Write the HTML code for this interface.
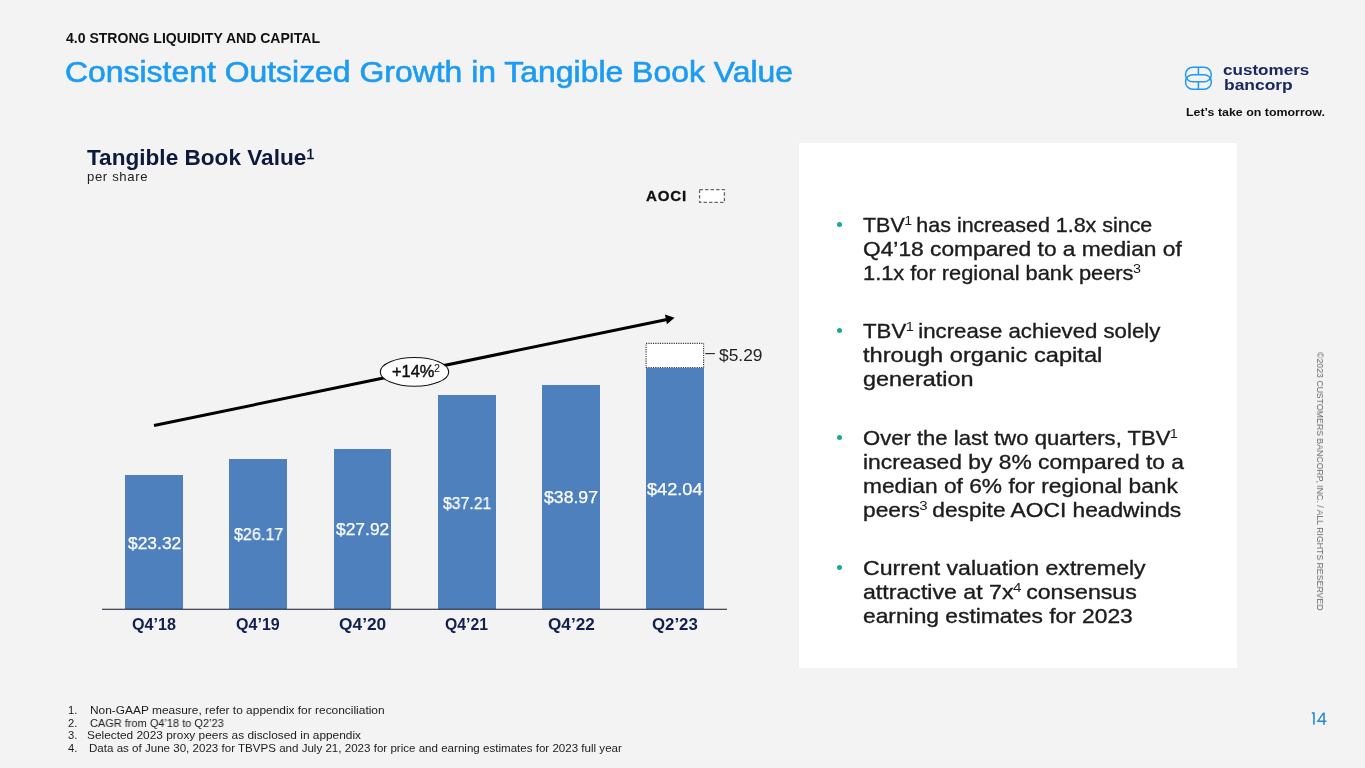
<!DOCTYPE html>
<html><head><meta charset="utf-8"><title>Consistent Outsized Growth in Tangible Book Value</title>
<style>
html,body{margin:0;padding:0;}
body{width:1365px;height:768px;background:#f3f3f3;position:relative;overflow:hidden;font-family:"Liberation Sans",sans-serif;}
.t{position:absolute;white-space:nowrap;line-height:1;transform-origin:0 0;display:block;will-change:transform;}
.sp{font-size:66%;position:relative;top:-0.56em;letter-spacing:0;margin:0 -1.5px 0 -0.5px;-webkit-text-stroke:0;}
.sph{font-size:66%;position:relative;top:-0.44em;font-weight:400;margin:0 -2px 0 0;-webkit-text-stroke:0.35px #0e1a3c;}
.panel{position:absolute;left:799px;top:143px;width:438px;height:525px;background:#ffffff;}
.bar{position:absolute;background:#4e80bd;}
.dot{position:absolute;width:5.2px;height:5.2px;border-radius:50%;background:#18a99b;}
svg{position:absolute;left:0;top:0;}
.vert{position:absolute;white-space:nowrap;line-height:1;font-size:9.7px;color:#6a6a6a;transform-origin:0 0;will-change:transform;}
</style></head>
<body>
<div class="panel"></div>
<div class="bar" style="left:125px;top:475px;width:58px;height:134px"></div>
<div class="bar" style="left:229.25px;top:458.5px;width:57.75px;height:150.5px"></div>
<div class="bar" style="left:333.75px;top:448.75px;width:57.5px;height:160.25px"></div>
<div class="bar" style="left:437.75px;top:395px;width:57.75px;height:214px"></div>
<div class="bar" style="left:541.75px;top:385px;width:57.75px;height:224px"></div>
<div class="bar" style="left:645.75px;top:367.5px;width:58px;height:241.5px"></div>
<svg width="1365" height="768" viewBox="0 0 1365 768">
<line x1="102" y1="609.3" x2="727" y2="609.3" stroke="#15152a" stroke-width="1.1"/>
<rect x="646.1" y="343.4" width="57.5" height="24.1" fill="#ffffff" stroke="#333" stroke-width="1.1" stroke-dasharray="1.15 1.15"/>
<line x1="705.3" y1="353.6" x2="714.9" y2="353.6" stroke="#222" stroke-width="1.1"/>
<line x1="154" y1="425.5" x2="667" y2="319.45" stroke="#000" stroke-width="3"/>
<polygon points="674.6,317.85 664.9,314.4 666.9,324.3" fill="#000"/>
<ellipse cx="414.5" cy="371.9" rx="34.2" ry="14.4" fill="#ffffff" stroke="#111" stroke-width="1.1"/>
<rect x="699.6" y="189.6" width="24.8" height="12.7" fill="#ffffff" stroke="#666" stroke-width="1.3" stroke-dasharray="3.4 2.1"/>
<g fill="none" stroke="#2398f3" stroke-width="1.5">
<rect x="1185.5" y="67.25" width="25.8" height="14.6" rx="7.3" ry="7.3"/>
<rect x="1185.5" y="74.65" width="25.8" height="14.6" rx="7.3" ry="7.3"/>
<line x1="1198.4" y1="67.25" x2="1198.4" y2="74.65"/>
<line x1="1198.4" y1="81.85" x2="1198.4" y2="89.25"/>
</g>
<g fill="none" stroke="#2385d3" stroke-width="1.55" stroke-linejoin="miter">
<path d="M1311.8,713.05 H1313.95 V724.7"/>
<path d="M1324,712.5 V724.7"/>
<path d="M1323.3,713.1 L1317.9,721.2 H1326.4" stroke-width="1.35"/>
</g>
</svg>

<div class="dot" style="left:837px;top:222.0px"></div>
<div class="dot" style="left:837px;top:328.0px"></div>
<div class="dot" style="left:837px;top:435.0px"></div>
<div class="dot" style="left:837px;top:564.9px"></div>
<span class="t" style="left:65.50px;top:31.15px;font-size:14px;color:#111;font-weight:700;transform:scaleX(1.0027);">4.0 STRONG LIQUIDITY AND CAPITAL</span>
<span class="t" style="left:65.00px;top:56.70px;font-size:29.3px;color:#1b9bf1;-webkit-text-stroke:0.6px #1b9bf1;transform:scaleX(1.0894);">Consistent Outsized Growth in Tangible Book Value</span>
<span class="t" style="left:87.00px;top:146.72px;font-size:21.6px;color:#0e1a3c;font-weight:700;transform:scaleX(1.0463);">Tangible Book Value<span class="sph">1</span></span>
<span class="t" style="left:87.00px;top:171.33px;font-size:12.6px;color:#222;letter-spacing:0.6px;transform:scaleX(1.0429);">per share</span>
<span class="t" style="left:646.00px;top:188.89px;font-size:14.6px;color:#111;font-weight:700;letter-spacing:0.8px;-webkit-text-stroke:0.3px #111;transform:scaleX(1.0350);">AOCI</span>
<span class="t" style="left:128.00px;top:534.62px;font-size:16.4px;color:#ffffff;-webkit-text-stroke:0.25px #ffffff;transform:scaleX(1.0620);">$23.32</span>
<span class="t" style="left:233.75px;top:526.37px;font-size:16.4px;color:#ffffff;-webkit-text-stroke:0.25px #ffffff;transform:scaleX(0.9822);">$26.17</span>
<span class="t" style="left:336.25px;top:521.12px;font-size:16.4px;color:#ffffff;-webkit-text-stroke:0.25px #ffffff;transform:scaleX(1.0620);">$27.92</span>
<span class="t" style="left:442.50px;top:494.62px;font-size:16.4px;color:#ffffff;-webkit-text-stroke:0.25px #ffffff;transform:scaleX(0.9623);">$37.21</span>
<span class="t" style="left:543.75px;top:489.37px;font-size:16.4px;color:#ffffff;-webkit-text-stroke:0.25px #ffffff;transform:scaleX(1.0770);">$38.97</span>
<span class="t" style="left:647.00px;top:480.62px;font-size:16.4px;color:#ffffff;-webkit-text-stroke:0.25px #ffffff;transform:scaleX(1.1069);">$42.04</span>
<span class="t" style="left:132.00px;top:616.79px;font-size:15.6px;color:#12204f;font-weight:700;transform:scaleX(1.0357);">Q4’18</span>
<span class="t" style="left:236.25px;top:616.79px;font-size:15.6px;color:#12204f;font-weight:700;transform:scaleX(1.0298);">Q4’19</span>
<span class="t" style="left:338.75px;top:616.79px;font-size:15.6px;color:#12204f;font-weight:700;transform:scaleX(1.1122);">Q4’20</span>
<span class="t" style="left:445.00px;top:616.79px;font-size:15.6px;color:#12204f;font-weight:700;transform:scaleX(1.0121);">Q4’21</span>
<span class="t" style="left:547.50px;top:616.79px;font-size:15.6px;color:#12204f;font-weight:700;transform:scaleX(1.1004);">Q4’22</span>
<span class="t" style="left:651.75px;top:616.79px;font-size:15.6px;color:#12204f;font-weight:700;transform:scaleX(1.0769);">Q2’23</span>
<span class="t" style="left:392.00px;top:363.29px;font-size:16.2px;color:#111;-webkit-text-stroke:0.45px #111;transform:scaleX(1.0150);">+14%<span class="sp" style="top:-0.44em">2</span></span>
<span class="t" style="left:719.00px;top:347.70px;font-size:16.6px;color:#222;transform:scaleX(1.0474);">$5.29</span>
<span class="t" style="left:863.20px;top:215.94px;font-size:19.8px;color:#1c1c1c;-webkit-text-stroke:0.35px #1c1c1c;transform:scaleX(1.0836);">TBV<span class="sp">1</span> has increased 1.8x since</span>
<span class="t" style="left:863.20px;top:240.19px;font-size:19.8px;color:#1c1c1c;-webkit-text-stroke:0.35px #1c1c1c;transform:scaleX(1.1504);">Q4’18 compared to a median of</span>
<span class="t" style="left:863.20px;top:264.44px;font-size:19.8px;color:#1c1c1c;-webkit-text-stroke:0.35px #1c1c1c;transform:scaleX(1.1031);">1.1x for regional bank peers<span class="sp">3</span></span>
<span class="t" style="left:863.20px;top:321.94px;font-size:19.8px;color:#1c1c1c;-webkit-text-stroke:0.35px #1c1c1c;transform:scaleX(1.1229);">TBV<span class="sp">1</span> increase achieved solely</span>
<span class="t" style="left:863.20px;top:346.19px;font-size:19.8px;color:#1c1c1c;-webkit-text-stroke:0.35px #1c1c1c;transform:scaleX(1.1957);">through organic capital</span>
<span class="t" style="left:863.20px;top:370.44px;font-size:19.8px;color:#1c1c1c;-webkit-text-stroke:0.35px #1c1c1c;transform:scaleX(1.1824);">generation</span>
<span class="t" style="left:863.20px;top:428.94px;font-size:19.8px;color:#1c1c1c;-webkit-text-stroke:0.35px #1c1c1c;transform:scaleX(1.1155);">Over the last two quarters, TBV<span class="sp">1</span></span>
<span class="t" style="left:863.20px;top:453.19px;font-size:19.8px;color:#1c1c1c;-webkit-text-stroke:0.35px #1c1c1c;transform:scaleX(1.1538);">increased by 8% compared to a</span>
<span class="t" style="left:863.20px;top:477.44px;font-size:19.8px;color:#1c1c1c;-webkit-text-stroke:0.35px #1c1c1c;transform:scaleX(1.1497);">median of 6% for regional bank</span>
<span class="t" style="left:863.20px;top:500.69px;font-size:19.8px;color:#1c1c1c;-webkit-text-stroke:0.35px #1c1c1c;transform:scaleX(1.1493);">peers<span class="sp">3</span> despite AOCI headwinds</span>
<span class="t" style="left:863.20px;top:558.84px;font-size:19.8px;color:#1c1c1c;-webkit-text-stroke:0.35px #1c1c1c;transform:scaleX(1.1687);">Current valuation extremely</span>
<span class="t" style="left:863.20px;top:583.04px;font-size:19.8px;color:#1c1c1c;-webkit-text-stroke:0.35px #1c1c1c;transform:scaleX(1.1702);">attractive at 7x<span class="sp">4</span> consensus</span>
<span class="t" style="left:863.20px;top:607.24px;font-size:19.8px;color:#1c1c1c;-webkit-text-stroke:0.35px #1c1c1c;transform:scaleX(1.1519);">earning estimates for 2023</span>
<span class="t" style="left:68.20px;top:705.42px;font-size:11.2px;color:#1c1c1c;">1.</span>
<span class="t" style="left:89.90px;top:705.42px;font-size:11.2px;color:#1c1c1c;transform:scaleX(1.0654);">Non-GAAP measure, refer to appendix for reconciliation</span>
<span class="t" style="left:68.20px;top:718.17px;font-size:11.2px;color:#1c1c1c;">2.</span>
<span class="t" style="left:89.90px;top:718.17px;font-size:11.2px;color:#1c1c1c;transform:scaleX(0.9818);">CAGR from Q4’18 to Q2’23</span>
<span class="t" style="left:68.20px;top:729.92px;font-size:11.2px;color:#1c1c1c;">3.</span>
<span class="t" style="left:87.40px;top:729.92px;font-size:11.2px;color:#1c1c1c;transform:scaleX(1.0616);">Selected 2023 proxy peers as disclosed in appendix</span>
<span class="t" style="left:68.20px;top:742.67px;font-size:11.2px;color:#1c1c1c;">4.</span>
<span class="t" style="left:88.60px;top:742.67px;font-size:11.2px;color:#1c1c1c;transform:scaleX(1.0340);">Data as of June 30, 2023 for TBVPS and July 21, 2023 for price and earning estimates for 2023 full year</span>
<span class="t" style="left:1223.10px;top:63.06px;font-size:14.4px;color:#1a2860;font-weight:700;transform:scaleX(1.1855);">customers</span>
<span class="t" style="left:1223.75px;top:77.61px;font-size:14.4px;color:#1a2860;font-weight:700;transform:scaleX(1.2108);">bancorp</span>
<span class="t" style="left:1186.00px;top:107.43px;font-size:11.3px;color:#111;font-weight:700;transform:scaleX(1.0980);">Let’s take on tomorrow.</span>
<div class="vert" style="left:1325.1px;top:351.6px;transform:rotate(90deg) scaleX(0.9019);">©2023 CUSTOMERS BANCORP, INC. / ALL RIGHTS RESERVED</div>
</body></html>
